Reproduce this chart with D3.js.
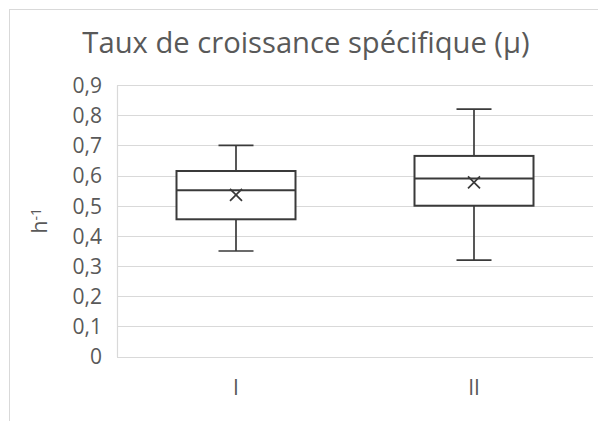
<!DOCTYPE html>
<html>
<head>
<meta charset="utf-8">
<script src="https://cdn.jsdelivr.net/npm/d3@7"></script>
<style>
  html, body { margin: 0; padding: 0; background: #fff; }
  svg { display: block; }
  text { font-family: "Open Sans", "Noto Sans", sans-serif; fill: #595959; }
</style>
</head>
<body>
<svg id="chart" width="598" height="421"></svg>
<script>
// Growth-rate box plots for two groups
const categories = ["I", "II"];
const mins    = [0.35, 0.32];
const q1s     = [0.455, 0.50];
const medians = [0.551, 0.59];
const q3s     = [0.615, 0.665];
const maxs    = [0.70, 0.82];
const means   = [0.536, 0.577];
const yTicks  = [0, 0.1, 0.2, 0.3, 0.4, 0.5, 0.6, 0.7, 0.8, 0.9];

const title = "Taux de croissance spécifique (μ)";

const svg = d3.select("#chart");
const W = 598, H = 421;
const margin = { left: 117, right: 5, top: 85, bottom: 64 };

// outer chart frame
svg.append("rect")
  .attr("x", 9.5).attr("y", 9.5)
  .attr("width", W + 20).attr("height", H + 20)
  .attr("fill", "#fff").attr("stroke", "#d9d9d9").attr("stroke-width", 1);

const x = d3.scaleBand()
  .domain(categories)
  .range([margin.left, W - margin.right])
  .paddingInner(0).paddingOuter(0);

const y = d3.scaleLinear()
  .domain([0, 0.9])
  .range([H - margin.bottom - 0.4, margin.top]);

const fmt = d => d === 0 ? "0" : d3.format(".1f")(d).replace(".", ",");

// gridlines
svg.append("g")
  .selectAll("line")
  .data(yTicks)
  .join("line")
  .attr("x1", margin.left).attr("x2", W - margin.right)
  .attr("y1", d => Math.round(y(d)) + 0.5).attr("y2", d => Math.round(y(d)) + 0.5)
  .attr("stroke", "#d9d9d9").attr("stroke-width", 1.2);

// y axis
const yAxis = svg.append("g")
  .attr("transform", `translate(${margin.left},0)`)
  .call(d3.axisLeft(y).tickValues(yTicks).tickFormat(fmt).tickSize(0).tickPadding(15));
yAxis.select(".domain").attr("stroke", "#d9d9d9").attr("stroke-width", 1.2);
yAxis.selectAll("text")
  .style("font-size", "21px").attr("fill", "#595959")
  .attr("dy", "0.35em");

// x axis labels
const xAxis = svg.append("g")
  .attr("transform", `translate(0,${y(0)})`)
  .call(d3.axisBottom(x).tickSize(0).tickPadding(23));
xAxis.select(".domain").remove();
xAxis.selectAll("text").style("font-size", "21px").attr("fill", "#595959");

// y axis title: h^-1
const yt = svg.append("text")
  .attr("transform", `translate(47,${(y(0) + y(0.9)) / 2}) rotate(-90)`)
  .attr("text-anchor", "middle")
  .style("font-size", "21px");
yt.append("tspan").text("h");
yt.append("tspan").attr("dy", "-0.45em").style("font-size", "14px").text("-1");

// chart title
svg.append("text")
  .attr("x", 306).attr("y", 53)
  .attr("text-anchor", "middle")
  .style("font-size", "29.2px")
  .text(title);

// boxes
const stroke = "#3a3a3a";
const boxW = x.bandwidth() * 0.5;
const capW = 35;
const g = svg.append("g");
categories.forEach((c, i) => {
  const cx = x(c) + x.bandwidth() / 2;
  // whiskers
  g.append("line").attr("x1", cx).attr("x2", cx)
    .attr("y1", y(maxs[i])).attr("y2", y(q3s[i]))
    .attr("stroke", stroke).attr("stroke-width", 1.7);
  g.append("line").attr("x1", cx).attr("x2", cx)
    .attr("y1", y(q1s[i])).attr("y2", y(mins[i]))
    .attr("stroke", stroke).attr("stroke-width", 1.7);
  g.append("line").attr("x1", cx - capW / 2).attr("x2", cx + capW / 2)
    .attr("y1", y(maxs[i])).attr("y2", y(maxs[i]))
    .attr("stroke", stroke).attr("stroke-width", 1.7);
  g.append("line").attr("x1", cx - capW / 2).attr("x2", cx + capW / 2)
    .attr("y1", y(mins[i])).attr("y2", y(mins[i]))
    .attr("stroke", stroke).attr("stroke-width", 1.7);
  // box
  g.append("rect")
    .attr("x", cx - boxW / 2).attr("y", y(q3s[i]))
    .attr("width", boxW).attr("height", y(q1s[i]) - y(q3s[i]))
    .attr("fill", "#fff").attr("stroke", stroke).attr("stroke-width", 2);
  // median
  g.append("line").attr("x1", cx - boxW / 2).attr("x2", cx + boxW / 2)
    .attr("y1", y(medians[i])).attr("y2", y(medians[i]))
    .attr("stroke", stroke).attr("stroke-width", 1.9);
  // mean marker
  const s = 6, my = y(means[i]);
  g.append("path")
    .attr("d", `M${cx - s},${my - s}L${cx + s},${my + s}M${cx - s},${my + s}L${cx + s},${my - s}`)
    .attr("stroke", stroke).attr("stroke-width", 1.7).attr("fill", "none");
});
</script>
</body>
</html>
